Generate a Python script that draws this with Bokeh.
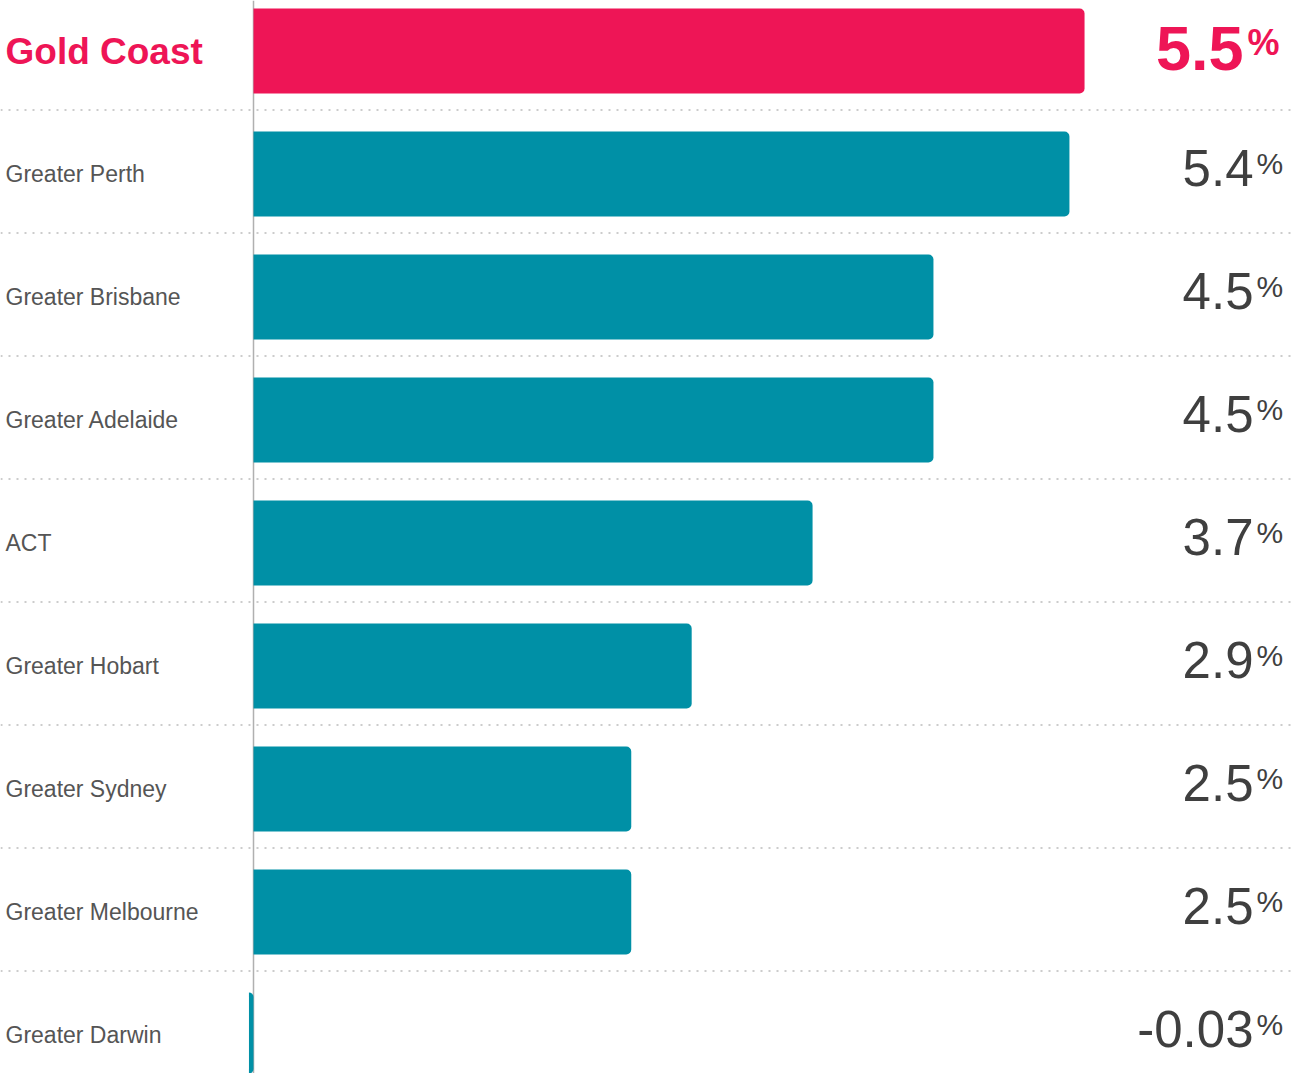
from bokeh.plotting import figure
from bokeh.models import ColumnDataSource, Range1d, Span
from bokeh.embed import file_html
from bokeh.resources import INLINE
from bokeh.core.properties import value

# ---- data ----
regions = ["Gold Coast", "Greater Perth", "Greater Brisbane", "Greater Adelaide", "ACT",
           "Greater Hobart", "Greater Sydney", "Greater Melbourne", "Greater Darwin"]
growth = [5.5, 5.4, 4.5, 4.5, 3.7, 2.9, 2.5, 2.5, -0.03]
value_labels = ["5.5", "5.4", "4.5", "4.5", "3.7", "2.9", "2.5", "2.5", "-0.03"]

# ---- geometry ----
W, H = 1295, 1073
SC = 151.1          # px per percentage point
FX0 = 253           # frame px of zero
RP = 123.0          # row pitch px
FY0 = 50.5          # frame px of first row centre
X0 = -FX0 / SC
X1 = (W - FX0) / SC
Y_TOP = -FY0 / RP
Y_BOT = (H - FY0) / RP

RED = "#EE1556"
TEAL = "#0090A6"

def fx(px):
    return X0 + px / SC

rows = list(range(len(regions)))
hi = [0]
lo = rows[1:]

def make_src(idx):
    return ColumnDataSource(dict(y=[rows[i] for i in idx], v=[growth[i] for i in idx],
                                 name=[regions[i] for i in idx],
                                 lab=[value_labels[i] for i in idx],
                                 pct=["%" for i in idx]))

src_hi = make_src(hi)
src_lo = make_src(lo)

p = figure(width=W, height=H, output_backend="svg", toolbar_location=None,
           x_range=Range1d(X0, X1), y_range=Range1d(Y_BOT, Y_TOP),
           min_border=0, outline_line_color=None)
p.axis.visible = False
p.grid.visible = False
p.background_fill_color = "white"
p.border_fill_color = "white"

# dotted separators
for i in rows[:-1]:
    p.add_layout(Span(location=i + 0.48, dimension="width", line_color="#cccccc",
                      line_width=2, line_dash="2 6", level="underlay"))
# zero line
p.add_layout(Span(location=0, dimension="height", line_color="#b0b0b0",
                  line_width=1.5, level="underlay"))

bh = 85 / RP
p.hbar(y="y", left=0, right="v", height=bh, source=src_hi, fill_color=RED,
       line_color=None, border_radius=(0, 5, 5, 0))
p.hbar(y="y", left=0, right="v", height=bh, source=src_lo, fill_color=TEAL,
       line_color=None, border_radius=(0, 5, 5, 0))

FONT = value("Liberation Sans")

# category labels
p.text(x=fx(5), y="y", text="name", source=src_hi, text_font=FONT, text_font_size="37px",
       text_font_style="bold", text_color=RED, text_baseline="middle", text_align="left")
p.text(x=fx(5), y="y", text="name", source=src_lo, text_font=FONT, text_font_size="23px",
       text_color="#555555", text_baseline="middle", text_align="left")

# value labels
p.text(x=fx(1243), y="y", text="lab", source=src_hi, text_font=FONT, text_font_size="63px",
       text_font_style="bold", text_color=RED, text_baseline="alphabetic", text_align="right",
       y_offset=-3)
p.text(x=fx(1247), y="y", text="pct", source=src_hi, text_font=FONT, text_font_size="36px",
       text_font_style="bold", text_color=RED, text_baseline="alphabetic", text_align="left",
       y_offset=-9)
p.text(x=fx(1253), y="y", text="lab", source=src_lo, text_font=FONT, text_font_size="51px",
       text_color="#3f3f3f", text_baseline="alphabetic", text_align="right",
       y_offset=-6)
p.text(x=fx(1256), y="y", text="pct", source=src_lo, text_font=FONT, text_font_size="30px",
       text_color="#3f3f3f", text_baseline="alphabetic", text_align="left",
       y_offset=-10.5)

open("out.html", "w").write(file_html(p, INLINE))
